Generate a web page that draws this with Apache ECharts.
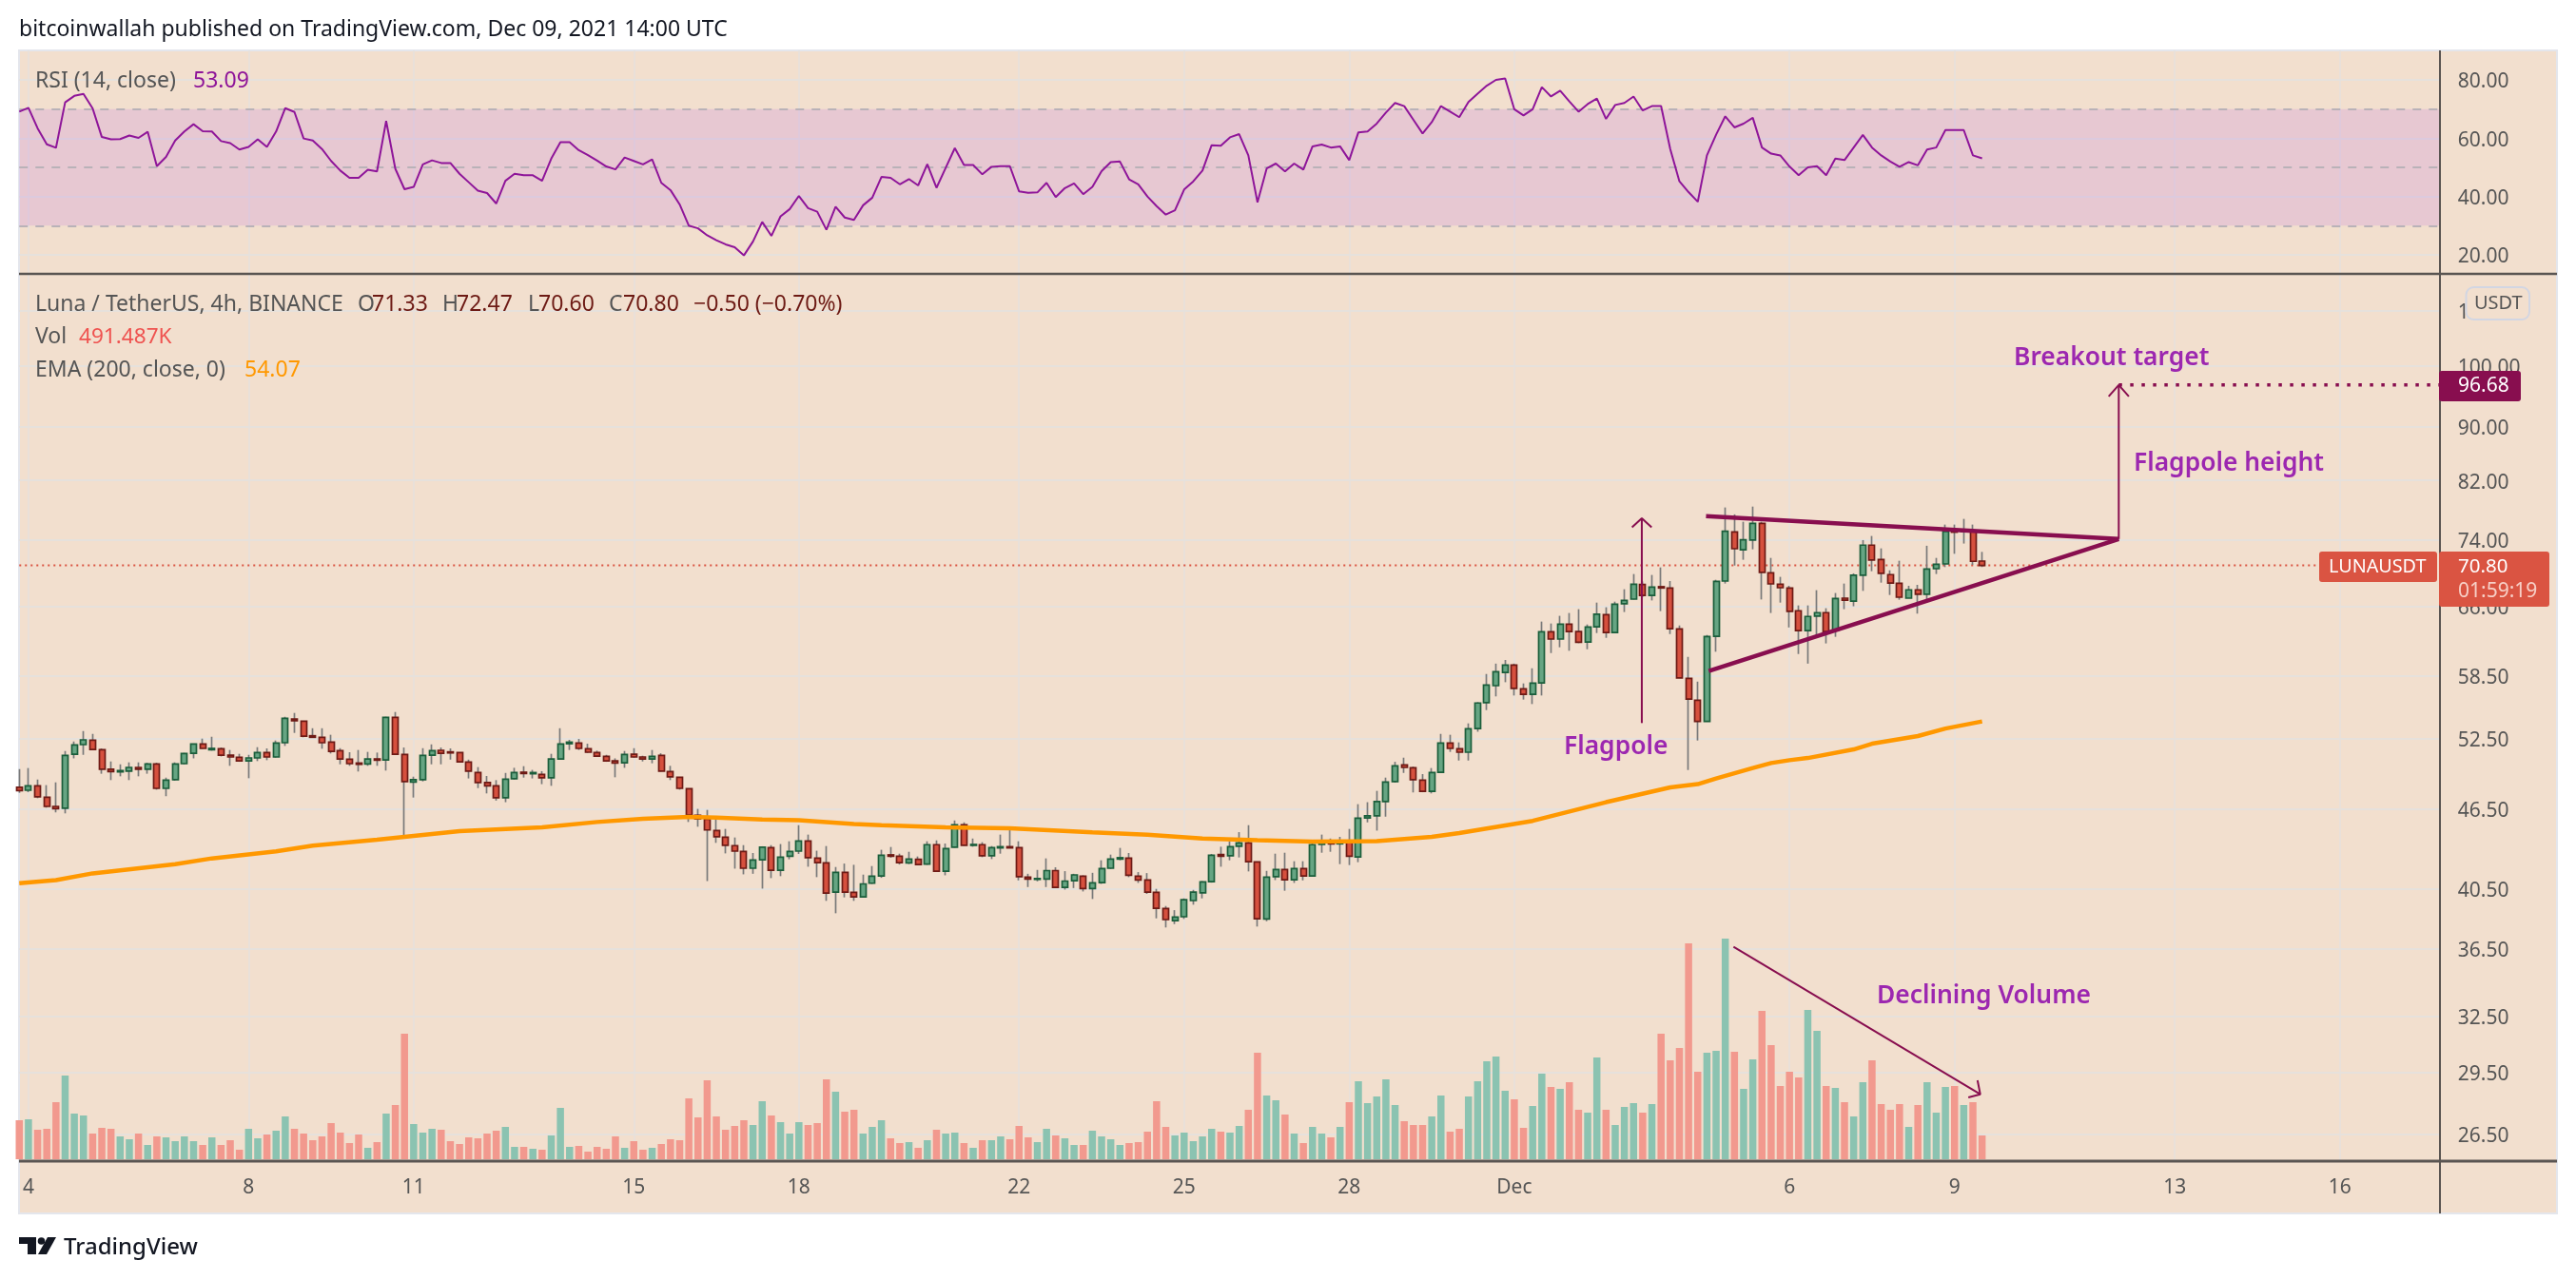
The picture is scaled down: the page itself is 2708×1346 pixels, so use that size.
<!DOCTYPE html>
<html><head><meta charset="utf-8">
<style>html,body{margin:0;padding:0;background:#fff}#c{width:2708px;height:1346px}</style>
<script src="https://cdn.jsdelivr.net/npm/echarts@6/dist/echarts.min.js"></script>
</head><body><div id="c"></div>
<script>
// OHLC, 4h bars (bar 0 = 3 Nov 20:00 UTC)
const opens=[48.25,48.01,48.38,47.44,46.69,46.54,51.10,51.95,52.35,51.49,
49.78,49.56,49.62,49.94,49.78,50.24,48.17,48.89,50.27,51.18,
52.00,51.49,51.58,51.01,50.82,50.51,50.77,51.24,50.85,52.12,
54.30,54.10,52.75,52.61,52.17,51.41,50.65,50.32,50.24,50.68,
50.59,54.45,51.07,48.70,48.89,51.01,51.44,51.30,51.24,50.41,
49.50,48.65,48.38,47.39,48.97,49.53,49.40,49.34,49.05,50.68,
52.03,52.09,51.58,51.24,50.90,50.51,50.35,51.10,50.85,50.68,
50.99,49.59,49.10,48.14,45.98,45.67,44.78,44.27,43.63,43.20,
41.96,42.58,43.48,41.82,42.84,43.22,43.98,42.70,42.35,40.27,
41.66,40.25,39.94,40.89,41.41,42.94,42.84,42.35,42.61,42.26,
43.70,41.75,43.51,45.22,43.65,43.70,42.87,43.46,43.55,43.48,
41.32,41.16,41.18,41.79,40.60,41.07,41.39,40.51,40.93,41.96,
42.63,42.70,41.39,41.11,40.25,39.14,38.33,38.59,39.68,40.22,
41.00,42.96,42.87,43.58,43.84,42.42,38.44,41.35,41.86,41.13,
41.93,41.41,43.72,43.91,43.77,43.86,42.79,45.77,45.93,47.08,
48.73,50.16,49.91,48.86,47.93,49.53,52.09,51.58,51.27,53.41,
55.85,57.52,58.85,59.59,57.21,56.67,57.80,63.12,62.34,63.97,
63.16,62.03,63.67,65.03,63.05,66.25,66.79,68.49,67.23,68.24,
68.09,63.43,58.24,56.09,54.07,62.64,68.91,75.02,72.74,73.96,
76.13,69.90,68.53,68.09,65.46,63.26,64.85,65.25,63.26,66.90,
66.57,69.60,73.32,71.52,69.68,68.64,66.90,67.87,67.35,70.40,
70.98,75.14,75.06,75.14,71.33];
const highs=[49.80,49.89,48.91,48.44,48.67,51.38,52.23,53.18,52.92,51.61,
50.46,50.21,50.38,50.38,50.35,50.35,49.07,50.38,51.21,52.03,
52.49,52.66,51.69,51.47,51.13,51.04,51.72,51.61,52.32,54.51,
54.87,54.13,53.44,53.44,52.84,51.63,51.27,51.47,51.30,51.24,
54.51,54.96,51.69,49.15,51.63,51.97,51.69,51.61,51.27,50.62,
49.97,49.21,48.86,49.47,49.91,50.05,49.73,49.62,51.13,53.44,
52.38,52.46,52.03,51.41,51.04,50.73,51.38,51.63,50.96,51.47,
51.18,50.08,49.13,48.17,46.49,46.41,45.87,44.91,44.25,43.67,
43.08,43.58,43.67,43.75,43.96,45.20,44.47,43.25,43.60,42.05,
42.30,42.21,41.50,42.12,43.32,43.53,43.03,43.17,42.82,43.96,
44.03,43.79,45.57,45.42,44.17,43.89,43.60,44.47,44.91,43.96,
41.56,41.84,42.68,42.03,41.75,41.56,41.45,41.63,42.54,42.96,
43.46,43.08,41.68,41.61,40.49,39.31,39.03,39.83,40.42,41.04,
43.01,43.55,43.96,44.66,45.20,42.44,41.77,43.03,43.10,42.47,
42.47,43.94,44.47,44.17,44.30,44.91,46.87,47.03,47.96,49.07,
50.43,50.79,50.02,49.37,49.89,52.92,52.84,52.15,53.89,55.90,
58.69,59.75,60.13,59.75,57.74,59.27,64.25,64.04,64.89,65.21,
65.64,63.93,66.39,65.86,66.50,67.94,69.75,68.87,69.64,70.55,
68.91,63.82,60.45,57.92,62.78,69.06,78.25,77.32,76.34,78.37,
76.34,71.72,69.41,68.35,66.07,66.07,67.83,65.75,67.50,68.61,
69.83,73.96,74.49,72.91,70.20,71.37,68.35,68.46,73.24,71.72,
75.97,75.97,76.72,75.97,72.47];
const lows=[47.80,47.85,47.36,46.59,46.21,46.13,50.73,51.04,51.44,49.40,
48.86,49.18,48.86,49.18,49.40,48.06,47.52,48.81,50.21,50.73,
51.58,51.41,50.90,50.08,50.43,49.02,50.49,50.57,50.79,51.83,
53.01,52.61,52.55,51.58,51.16,50.21,50.08,49.59,50.08,50.08,
49.67,51.07,44.27,47.41,48.75,50.21,50.21,50.62,50.41,49.00,
48.19,47.75,47.16,47.03,48.91,49.07,49.00,48.52,48.38,50.62,
51.47,51.47,51.21,50.85,50.43,49.10,49.91,50.79,50.46,50.30,
49.59,48.86,48.06,45.45,45.08,41.04,43.84,43.05,41.93,41.52,
41.56,40.51,41.25,41.39,42.61,43.01,42.07,41.32,39.66,38.82,
39.90,39.66,39.90,40.84,41.27,42.73,42.23,42.26,42.21,42.21,
41.73,41.45,43.48,43.63,43.55,42.77,42.63,43.03,43.43,41.09,
40.62,41.02,40.62,40.57,40.44,40.55,40.31,39.79,40.84,41.91,
42.54,41.32,40.91,40.14,38.48,37.88,38.10,38.44,39.40,39.83,
40.93,42.07,42.54,42.75,41.73,37.94,38.29,41.11,40.36,40.91,
41.09,41.39,43.10,43.17,42.26,42.19,42.40,45.42,44.78,45.87,
48.65,49.47,47.83,47.85,47.75,49.47,51.30,50.54,50.54,53.12,
55.14,56.46,57.86,56.55,56.15,55.72,56.55,60.85,61.46,61.09,
61.90,61.25,62.99,62.47,63.05,65.32,66.75,67.00,66.64,65.42,
62.88,58.27,49.72,52.32,54.07,60.99,68.61,70.78,71.49,72.79,
66.75,65.21,66.39,63.60,60.75,59.75,62.44,61.87,62.58,65.64,
65.97,67.75,70.09,68.72,67.27,66.72,66.90,65.14,66.39,69.75,
70.59,72.23,73.52,70.86,70.60];
const closes=[47.98,48.38,47.47,46.69,46.51,50.99,51.92,52.38,51.52,49.78,
49.59,49.67,49.94,49.78,50.24,48.17,48.86,50.24,51.16,52.00,
51.61,51.61,51.01,50.85,50.51,50.77,51.24,50.85,52.09,54.36,
54.13,52.72,52.61,52.12,51.35,50.68,50.27,50.21,50.68,50.57,
54.45,51.10,48.73,48.89,50.99,51.41,51.18,51.21,50.43,49.62,
48.65,48.38,47.39,48.94,49.50,49.42,49.50,49.05,50.68,52.00,
52.17,51.61,51.27,50.93,50.51,50.32,51.07,50.85,50.68,50.90,
49.62,49.13,48.17,46.00,45.70,44.83,44.30,43.65,43.22,41.96,
42.56,43.51,41.82,42.77,43.20,43.98,42.73,42.37,40.20,41.66,
40.27,39.94,40.84,41.39,42.91,42.84,42.37,42.63,42.23,43.70,
41.75,43.41,45.22,43.65,43.72,42.87,43.48,43.55,43.46,41.35,
41.18,41.22,41.79,40.60,41.04,41.48,40.51,40.91,41.93,42.63,
42.73,41.45,41.11,40.27,39.16,38.40,38.56,39.74,40.27,40.98,
42.91,42.84,43.55,43.84,42.44,38.46,41.32,41.86,41.13,41.93,
41.41,43.70,43.98,43.77,43.86,42.84,45.75,45.93,47.08,48.70,
50.08,49.94,48.89,47.93,49.50,52.09,51.61,51.27,53.38,55.82,
57.58,58.91,59.59,57.24,56.67,57.77,63.12,62.34,63.97,63.16,
62.00,63.64,65.07,63.05,66.21,66.64,68.53,67.23,68.20,68.09,
63.46,58.30,56.20,54.07,62.61,68.87,75.10,72.87,73.99,76.13,
69.94,68.57,68.12,65.39,63.26,64.82,65.25,63.16,66.86,66.68,
69.60,73.32,71.45,69.83,68.68,67.01,67.87,67.35,70.36,70.94,
75.06,74.98,75.18,71.30,70.80];
// volume, unit ≈ 6.55K (the last bar, 491.487K, reads as 75)
const volumes=[123,126,93,96,180,264,144,138,81,99,
96,72,63,81,45,72,69,57,72,57,
45,69,45,60,30,96,66,78,90,135,
96,81,60,72,114,84,51,78,36,54,
144,171,396,111,84,96,93,57,48,69,
66,81,90,102,39,39,33,30,75,162,
39,42,24,39,33,72,36,57,30,36,
48,63,60,192,132,249,135,93,105,123,
108,183,138,117,81,117,108,114,252,213,
150,156,81,102,123,66,51,54,36,60,
93,81,84,51,36,60,60,72,63,105,
69,54,96,75,66,45,45,90,72,63,
45,51,54,87,183,102,75,84,57,72,
96,87,84,105,156,336,201,186,141,81,
51,102,81,69,102,180,246,177,198,252,
171,120,108,108,135,201,87,96,198,246,
309,324,216,189,99,168,270,228,222,243,
156,147,321,156,108,165,177,147,174,396,
312,351,681,276,336,342,696,339,222,315,
468,360,231,276,258,471,405,231,225,180,
135,243,312,174,156,174,102,171,243,147,
228,231,171,180,75];
const rsi=[69.1,70.4,63.4,57.9,56.7,72.3,74.5,75.2,70.2,60.4,
59.6,59.7,60.9,60.1,62.2,50.4,53.6,59.2,62.3,64.8,
62.4,62.3,59.0,58.3,56.1,57.0,59.6,57.0,62.3,70.3,
69.0,59.9,59.2,56.3,52.2,48.9,46.4,46.4,49.2,48.6,
65.9,49.5,42.5,43.3,51.0,52.4,51.5,51.5,47.8,44.9,
42.0,41.2,37.6,45.4,47.8,47.3,47.3,45.4,53.0,58.6,
58.6,55.9,54.2,52.3,50.3,49.3,53.4,52.2,51.0,52.7,
44.7,42.2,37.3,30.0,29.1,26.7,25.0,23.6,22.6,19.8,
24.6,31.3,26.5,33.2,35.7,40.2,36.0,34.8,28.6,36.5,
32.8,32.0,37.0,39.6,46.7,46.4,44.2,46.0,43.8,51.1,
43.0,49.8,56.6,50.8,50.8,47.6,50.2,50.4,50.4,41.8,
41.3,41.4,44.7,39.8,42.9,44.5,40.8,43.3,48.7,51.8,
52.0,45.9,44.2,40.0,36.7,33.8,35.3,42.4,45.2,48.9,
57.6,57.4,60.3,61.4,54.1,38.0,49.6,51.3,48.6,51.3,
49.2,57.2,57.8,56.8,57.2,52.5,62.0,62.3,65.0,68.8,
72.1,71.0,66.3,61.6,65.5,71.0,69.1,67.2,72.4,75.3,
78.0,80.0,80.5,69.9,67.8,69.9,77.5,74.3,76.3,72.6,
69.1,71.7,73.6,66.6,71.4,72.1,74.3,69.5,71.0,71.0,
56.3,45.2,41.5,38.2,54.1,61.2,67.5,63.7,65.0,67.0,
56.8,54.7,54.1,50.3,47.3,50.0,50.4,47.3,53.0,52.5,
56.8,61.1,56.8,54.1,52.0,50.2,51.8,50.7,56.1,56.8,
62.8,62.8,62.8,54.1,53.09];
// EMA(200): vertices [bar, price]
const emaBars=[0,4,8,17,21,28,32,39,43,48,57,63,68,73,76,81,85,91,94,101,108,117,123,129,135,141,148,154,157,165,173,180,183,185,189,191,193,195,200,202,207,210,214];
const emaVals=[40.89,41.11,41.59,42.26,42.68,43.20,43.63,44.08,44.37,44.73,45.03,45.45,45.70,45.85,45.80,45.64,45.59,45.30,45.20,45.03,44.96,44.64,44.47,44.17,44.05,43.94,43.98,44.30,44.59,45.54,47.03,48.25,48.52,48.99,49.89,50.32,50.57,50.76,51.52,52.03,52.72,53.41,54.07];
const tickBars=[1,25,43,67,85,109,127,145,163,193,211,235,253];
const tickLabels=['4','8','11','15','18','22','25','28','Dec','6','9','13','16'];
const priceTicks=[26.5,29.5,32.5,36.5,40.5,46.5,52.5,58.5,66,74,82,90,100,110];
const rsiTicks=[20,40,60,80];
const rsiBands=[30,50,70];
const lastPrice=70.80, targetPrice=96.68;
const apexBar=228.9, apexPrice=74.1;
const upperLine=[[183.9,77.1],[apexBar,apexPrice]];
const lowerLine=[[184.2,59.0],[apexBar,apexPrice]];
const flagpoleArrow=[[176.9,53.92],[176.9,76.8]];
const flagpoleHead=[[175.83,75.6],[176.9,76.8],[177.97,75.6]];
const heightArrow=[[apexBar,apexPrice],[apexBar,targetPrice]];
const heightHead=[[227.8,94.8],[apexBar,targetPrice],[230,94.8]];
const targetLine=[[apexBar,targetPrice],[264,targetPrice]];
const volumeArrow=[[186.9,670],[213.8,205]];
const volumeHead=[[213.5,249],[213.8,205],[212.5,195]];

const FONT='"Noto Sans", sans-serif';
const BG='#F2DFCE', GRID='#E6E1DC', MAROON='#880E4F', PURPLE='#9C27B0', AXIS='#5a5552', TAGRED='#DA5442';
const N=265, L=20.26, W=2545.5;
const categories=[];
for(let i=0;i<N;i++){categories.push(new Date(Date.UTC(2021,10,3,20+4*i)).toISOString().slice(0,16));}
const tickMap={};tickBars.forEach((b,k)=>tickMap[b]=tickLabels[k]);
const candles=opens.map((o,i)=>[o,closes[i],lows[i],highs[i]]);
const bodies=opens.map((o,i)=>[o,closes[i],Math.min(o,closes[i]),Math.max(o,closes[i])]);
const volData=volumes.map((v,i)=>({value:v,itemStyle:{color:closes[i]>=opens[i]?'#8BC3B1':'#F2998E'}}));
const ema=emaBars.map((b,i)=>[b,emaVals[i]]);

function over(data,width,extra){return Object.assign({type:'line',xAxisIndex:3,yAxisIndex:1,data,showSymbol:false,symbol:'none',silent:true,z:8,
  lineStyle:{color:MAROON,width,cap:'butt'},clip:true},extra||{});}
function txt(x,y,t,fill,size,weight,extra){return Object.assign({type:'text',x,y:y+1.5,z:100,silent:true,style:{text:t,fill,font:`${weight||400} ${size||21}px ${FONT}`,textVerticalAlign:'middle',textAlign:'left'}},extra||{});}
function rect(x,y,w,h,fill,r,stroke){return {type:'rect',z:90,silent:true,shape:{x,y,width:w,height:h,r:r||0},style:{fill,stroke:stroke||null,lineWidth:stroke?2:0}};}
function ln(x1,y1,x2,y2,c,w){return {type:'line',z:50,silent:true,shape:{x1,y1,x2,y2},style:{stroke:c,lineWidth:w}};}

const graphics=[
 {type:'rect',z:-5,silent:true,shape:{x:20,y:53,width:2668,height:1223},style:{fill:BG,stroke:'#E4E6EC',lineWidth:2}},
 ln(20,288,2688,288,AXIS,2.5), ln(20,1221,2688,1221,AXIS,3), ln(2565,53,2565,1276,AXIS,2),
 txt(20,30,'bitcoinwallah published on TradingView.com, Dec 09, 2021 14:00 UTC','#131722',23),
 txt(37,84,'RSI (14, close)','#555',23), txt(203,84,'53.09','#8E1599',23),
 txt(37,319,'Luna / TetherUS, 4h, BINANCE','#555',23),
 txt(376,319,'O','#555',23), txt(391,319,'71.33','#6D1A14',23),
 txt(465,319,'H','#555',23), txt(480,319,'72.47','#6D1A14',23),
 txt(555,319,'L','#555',23), txt(566,319,'70.60','#6D1A14',23),
 txt(640,319,'C','#555',23), txt(655,319,'70.80','#6D1A14',23),
 txt(729,319,'−0.50 (−0.70%)','#6D1A14',23),
 txt(37,353,'Vol','#555',23), txt(83,353,'491.487K','#EF5350',22.6),
 txt(37,388,'EMA (200, close, 0)','#555',23), txt(257,388,'54.07','#FF9800',23),
 txt(2117,375,'Breakout target',PURPLE,26.4,600),
 txt(2243,486,'Flagpole height',PURPLE,26.4,600),
 txt(1644,784,'Flagpole',PURPLE,26.4,600),
 txt(1973,1046,'Declining Volume',PURPLE,26.4,600),
 rect(2592.5,302,66.5,34,BG,8,'#D2D6E3'), txt(2601,317.5,'USDT','#555',20),
 rect(2564,390,86,32,MAROON,3), txt(2584,404.5,'96.68','#fff',21),
 rect(2438,580,124,32,TAGRED,3), txt(2448,594.5,'LUNAUSDT','#fff',19.8),
 rect(2564,580,116,58,TAGRED,3), txt(2584,594.5,'70.80','#fff',20.5), txt(2584,620.5,'01:59:19','#F7CFC6',21),
 // TradingView logo
 {type:'polygon',z:100,silent:true,shape:{points:[[20,1301],[38,1301],[38,1319],[29,1319],[29,1308],[20,1308]]},style:{fill:'#131722'}},
 {type:'circle',z:100,silent:true,shape:{cx:43.5,cy:1305,r:3.8},style:{fill:'#131722'}},
 {type:'polygon',z:100,silent:true,shape:{points:[[50,1301],[59,1301],[49,1319],[40,1319]]},style:{fill:'#131722'}},
 txt(67,1310.5,'TradingView','#131722',24,500)
];

const splitX={show:true,interval:(i)=>tickMap[i]!==undefined,lineStyle:{color:GRID,width:1.5}};
const yLabel={fontFamily:FONT,margin:18,rich:{t:{color:'#555',fontSize:21,fontFamily:FONT,padding:[5,0,0,0]}}};
const option={
 animation:false,
 backgroundColor:'#fff',
 textStyle:{fontFamily:FONT},
 graphic:{elements:graphics},
 grid:[
  {left:L,width:W,top:53,height:235,show:false,containLabel:false},
  {left:L,width:W,top:288,height:933,show:false,containLabel:false},
  {left:L,width:W,top:919,height:300,show:false,containLabel:false}
 ],
 xAxis:[
  {type:'category',gridIndex:0,data:categories,boundaryGap:false,axisLine:{show:false},axisTick:{show:false},axisLabel:{show:false},splitLine:splitX},
  {type:'category',gridIndex:1,data:categories,boundaryGap:false,axisLine:{show:false},axisTick:{show:false},splitLine:splitX,
   axisLabel:{interval:(i)=>tickMap[i]!==undefined,formatter:(v,i)=>tickMap[i]||'',color:'#555',fontSize:21,margin:18,fontFamily:FONT,hideOverlap:false}},
  {type:'category',gridIndex:2,data:categories,boundaryGap:false,show:false},
  {type:'value',gridIndex:1,min:0,max:N-1,show:false,splitLine:{show:false}},
  {type:'value',gridIndex:2,min:0,max:N-1,show:false,splitLine:{show:false}}
 ],
 yAxis:[
  {type:'value',gridIndex:0,position:'right',min:13.48,max:90.1,
   axisLine:{show:false},axisTick:{show:false,customValues:rsiTicks},
   axisLabel:Object.assign({customValues:rsiTicks,formatter:(v)=>`{t|${(+v).toFixed(2)}}`,showMinLabel:true,showMaxLabel:true},yLabel),
   splitLine:{show:true,lineStyle:{color:GRID,width:2}}},
  {type:'log',logBase:10,gridIndex:1,position:'right',min:25.30,max:117.14,
   axisLine:{show:false},axisTick:{show:false,customValues:priceTicks},
   axisLabel:Object.assign({customValues:priceTicks,formatter:(v)=>`{t|${(+v).toFixed(2)}}`},yLabel),
   splitLine:{show:true,lineStyle:{color:GRID,width:2}},minorSplitLine:{show:false},minorTick:{show:false}},
  {type:'value',gridIndex:2,min:0,max:900,show:false,splitLine:{show:false}}
 ],
 series:[
  {type:'line',name:'RSI',xAxisIndex:0,yAxisIndex:0,data:rsi,showSymbol:false,symbol:'none',z:6,lineStyle:{color:'#8E1599',width:2},
   markArea:{silent:true,z:1,itemStyle:{color:'rgba(142,4,246,0.10)'},data:[[{yAxis:rsiBands[2]},{yAxis:rsiBands[0]}]]},
   markLine:{silent:true,symbol:'none',label:{show:false},lineStyle:{color:'#B9B2B8',width:2,type:[9,8]},data:rsiBands.map(v=>({yAxis:v}))}},
  {type:'bar',name:'Vol',xAxisIndex:2,yAxisIndex:2,data:volData,barWidth:7.5,z:2},
  {type:'candlestick',name:'Wicks',xAxisIndex:1,yAxisIndex:1,data:candles,barWidth:1,z:3,
   itemStyle:{color:'#7A7A7A',color0:'#7A7A7A',borderColor:'#7A7A7A',borderColor0:'#7A7A7A',borderWidth:1.7}},
  {type:'candlestick',name:'Luna / TetherUS',xAxisIndex:1,yAxisIndex:1,data:bodies,barWidth:6.5,z:4,
   itemStyle:{color:'#66A583',color0:'#D6503E',borderColor:'#1B5E3B',borderColor0:'#6E1A15',borderWidth:1.7}},
  {type:'line',name:'EMA',xAxisIndex:3,yAxisIndex:1,data:ema,showSymbol:false,symbol:'none',z:5,lineStyle:{color:'#FF9800',width:4.5}},
  over([[0,lastPrice],[N-1,lastPrice]],2,{name:'Last',z:3,lineStyle:{color:TAGRED,width:2,type:[2,4]}}),
  over(upperLine,4.5,{name:'Upper trend'}),
  over(lowerLine,4.5,{name:'Lower trend'}),
  over(flagpoleArrow,2,{name:'Flagpole'}),
  over(flagpoleHead,2),
  over(heightArrow,2,{name:'Flagpole height'}),
  over(heightHead,2),
  over(targetLine,3.5,{name:'Target',lineStyle:{color:MAROON,width:3.5,type:[3.5,8.5]}}),
  over(volumeArrow,2,{xAxisIndex:4,yAxisIndex:2,name:'Declining Volume'}),
  over(volumeHead,2,{xAxisIndex:4,yAxisIndex:2})
 ]
};
echarts.init(document.getElementById('c')).setOption(option);
</script></body></html>
